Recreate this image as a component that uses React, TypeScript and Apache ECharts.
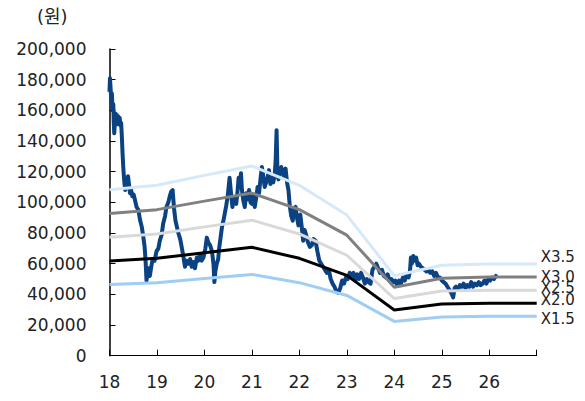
import React, { useEffect, useRef } from "react";
import * as echarts from "echarts";

// Share price in won; dates are fractional years since 2000 (18.5 = mid-2018)
const price2018: [number, number][] = [
  [18.0, 172000], [18.01, 181000], [18.02, 176000], [18.035, 168000], [18.05, 171000],
  [18.065, 160000], [18.08, 164000], [18.09, 152000], [18.1, 145000], [18.11, 150000],
  [18.125, 158000], [18.14, 155000], [18.155, 157000], [18.17, 151000], [18.185, 156000],
  [18.2, 153000], [18.215, 155000], [18.23, 150000], [18.245, 152000], [18.26, 143000],
  [18.275, 132000], [18.29, 123000], [18.31, 114000], [18.33, 108000], [18.35, 113000],
  [18.37, 110000], [18.39, 117000], [18.41, 112000], [18.43, 106000], [18.45, 109000],
  [18.48, 104000], [18.51, 105000], [18.54, 101000], [18.57, 97000], [18.61, 95000],
  [18.64, 89000], [18.68, 84000], [18.71, 78000], [18.74, 71000], [18.76, 62000],
  [18.78, 49000], [18.8, 54000], [18.82, 57000], [18.85, 52000], [18.88, 58000],
  [18.91, 63000], [18.95, 62000], [18.99, 68000],
];
const price2019: [number, number][] = [
  [19.03, 70000], [19.06, 75000], [19.1, 79000], [19.13, 86000], [19.17, 91000],
  [19.2, 97000], [19.24, 100000], [19.27, 104000], [19.3, 107000], [19.33, 108000],
  [19.36, 96000], [19.39, 88000], [19.42, 84000], [19.45, 80000], [19.49, 76000],
  [19.52, 71000], [19.56, 64000], [19.59, 58000], [19.62, 62000], [19.66, 60000],
  [19.7, 63000], [19.73, 58000], [19.77, 61000], [19.8, 57000], [19.84, 64000],
  [19.87, 62000], [19.91, 66000], [19.94, 62000], [19.98, 64000],
];
const price2020: [number, number][] = [
  [20.02, 70000], [20.05, 77000], [20.08, 74000], [20.12, 72000], [20.16, 68000],
  [20.19, 60000], [20.21, 48000], [20.23, 55000], [20.26, 60000], [20.29, 63000],
  [20.31, 70000], [20.34, 77000], [20.37, 84000], [20.4, 88000], [20.43, 93000],
  [20.46, 98000], [20.49, 104000], [20.51, 110000], [20.53, 116000], [20.56, 106000],
  [20.59, 97000], [20.61, 101000], [20.64, 103000], [20.67, 99000], [20.7, 108000],
  [20.72, 116000], [20.75, 112000], [20.77, 119000], [20.79, 108000], [20.82, 101000],
  [20.85, 97000], [20.88, 106000], [20.91, 102000], [20.94, 108000], [20.97, 100000],
];
const price2021: [number, number][] = [
  [21.0, 99000], [21.03, 104000], [21.06, 97000], [21.09, 103000], [21.12, 110000],
  [21.15, 106000], [21.18, 115000], [21.21, 123000], [21.24, 117000], [21.27, 110000],
  [21.3, 113000], [21.33, 116000], [21.36, 121000], [21.39, 112000], [21.42, 116000],
  [21.45, 113000], [21.48, 118000], [21.5, 127000], [21.52, 147000], [21.54, 118000],
  [21.56, 115000], [21.59, 121000], [21.62, 123000], [21.65, 119000], [21.68, 116000],
  [21.71, 122000], [21.74, 113000], [21.77, 108000], [21.8, 97000], [21.83, 91000],
  [21.86, 88000], [21.89, 96000], [21.92, 97000], [21.95, 90000], [21.98, 85000],
];
const price2022: [number, number][] = [
  [22.02, 92000], [22.05, 84000], [22.08, 75000], [22.11, 82000], [22.14, 79000],
  [22.18, 74000], [22.22, 71000], [22.26, 72000], [22.3, 76000], [22.34, 75000],
  [22.38, 68000], [22.42, 62000], [22.46, 60000], [22.5, 58000], [22.54, 56000],
  [22.58, 54000], [22.62, 56000], [22.66, 50000], [22.7, 47000], [22.74, 45000],
  [22.78, 42000], [22.82, 41000], [22.86, 44000], [22.9, 49000], [22.94, 47000],
  [22.98, 51000],
];
const price2023: [number, number][] = [
  [23.02, 50000], [23.06, 54000], [23.1, 52000], [23.14, 54000], [23.18, 49000],
  [23.22, 53000], [23.26, 50000], [23.3, 54000], [23.34, 51000], [23.38, 47000],
  [23.42, 50000], [23.46, 48000], [23.5, 47000], [23.54, 56000], [23.58, 58000],
  [23.62, 60000], [23.66, 57000], [23.7, 54000], [23.74, 56000], [23.78, 52000],
  [23.82, 51000], [23.86, 53000], [23.9, 49000], [23.94, 50000], [23.98, 48000],
];
const price2024: [number, number][] = [
  [24.02, 49000], [24.06, 46000], [24.1, 49000], [24.14, 47000], [24.18, 51000],
  [24.22, 49000], [24.26, 53000], [24.3, 51000], [24.33, 55000], [24.35, 64000],
  [24.37, 60000], [24.4, 65000], [24.43, 62000], [24.46, 64000], [24.49, 59000],
  [24.52, 60000], [24.56, 58000], [24.6, 57000], [24.64, 56000], [24.68, 55000],
  [24.72, 56000], [24.76, 54000], [24.8, 55000], [24.84, 52000], [24.88, 54000],
  [24.92, 51000], [24.96, 51000],
];
const price2025: [number, number][] = [
  [25.0, 49000], [25.04, 48000], [25.08, 47000], [25.12, 45000], [25.16, 43000],
  [25.2, 41000], [25.24, 38000], [25.27, 44000], [25.3, 45000], [25.34, 43000],
  [25.38, 46000], [25.42, 45000], [25.46, 47000], [25.5, 44000], [25.54, 46000],
  [25.58, 45000], [25.62, 48000], [25.66, 45000], [25.7, 47000], [25.74, 46000],
  [25.78, 48000], [25.82, 46000], [25.86, 47000], [25.9, 49000], [25.94, 47000],
  [25.98, 50000],
];
const price2026: [number, number][] = [
  [26.02, 49000], [26.06, 51000], [26.1, 50000], [26.14, 52000], [26.16, 51000],
];

// Book value per share at each year start, used for the PBR bands
const bpsYears = [18, 19, 20, 21, 22, 23, 24, 25, 26, 27];
const bpsValues = [30900, 31750, 33600, 35350, 31750, 26200, 14900, 16850, 17100, 17100];

// PBR multiples with their colours and label nudges
const bandMultiples = [3.5, 3.0, 2.5, 2.0, 1.5];
const bandNames = ["X3.5", "X3.0", "X2.5", "X2.0", "X1.5"];
const bandColors = ["#d5e9fa", "#808080", "#d9d9d9", "#000000", "#9fcdf4"];
const bandLabelShift = [-7, 0, -2, -3, 3];

const yTicks = { min: 0, max: 200000, interval: 20000 };
const xTicks = { min: 18, max: 27, interval: 1 };

const FONT = "DejaVu Sans, 'Noto Sans CJK KR', sans-serif";

export default function App() {
  const ref = useRef<HTMLDivElement>(null);

  useEffect(() => {
    if (!ref.current) return;
    const chart = echarts.init(ref.current, undefined, { renderer: "svg" });

    const priceSeries = {
      type: "line",
      name: "price",
      data: [
        ...price2018, ...price2019, ...price2020, ...price2021, ...price2022,
        ...price2023, ...price2024, ...price2025, ...price2026,
      ],
      showSymbol: false,
      symbol: "none",
      lineStyle: { color: "#0a4283", width: 4, join: "round" },
      z: 2,
    };

    const bandSeries = bandMultiples.map((m, k) => ({
      type: "line",
      name: bandNames[k],
      data: bpsYears.map((y, i) => [y, Math.round(bpsValues[i] * m)]),
      showSymbol: false,
      symbol: "none",
      lineStyle: { color: bandColors[k], width: 3 },
      z: 3,
      endLabel: {
        show: true,
        formatter: bandNames[k],
        color: "#222",
        fontSize: 15,
        fontFamily: FONT,
        distance: 4,
        offset: [0, bandLabelShift[k]],
      },
    }));

    chart.setOption({
      animation: false,
      grid: { left: 109.5, right: 48.3, top: 49, bottom: 45.3, containLabel: false },
      xAxis: {
        type: "value",
        min: xTicks.min,
        max: xTicks.max,
        interval: xTicks.interval,
        axisLine: { lineStyle: { color: "#000", width: 1 } },
        axisTick: { inside: true, length: 6, lineStyle: { color: "#000" } },
        splitLine: { show: false },
        axisLabel: {
          color: "#222",
          fontSize: 17,
          fontFamily: FONT,
          margin: 18,
          formatter: (v: number) => (v === xTicks.max ? "" : String(v)),
        },
      },
      yAxis: {
        type: "value",
        min: yTicks.min,
        max: yTicks.max,
        interval: yTicks.interval,
        axisLine: { show: true, lineStyle: { color: "#000", width: 1.5 } },
        axisTick: { show: true, inside: true, length: 6, lineStyle: { color: "#000" } },
        splitLine: { show: false },
        axisLabel: {
          color: "#222",
          fontSize: 17,
          fontFamily: FONT,
          margin: 23,
          formatter: (v: number) => v.toLocaleString("en-US"),
        },
      },
      graphic: [
        {
          type: "text",
          left: 37,
          top: 7,
          style: { text: "(원)", fontSize: 18, fontFamily: FONT, fill: "#222" },
        },
      ],
      series: [priceSeries, ...bandSeries],
    });

    return () => chart.dispose();
  }, []);

  return (
    <div
      ref={ref}
      style={{ position: "absolute", left: 0, top: 0, width: 585, height: 401, background: "#fff" }}
    />
  );
}
